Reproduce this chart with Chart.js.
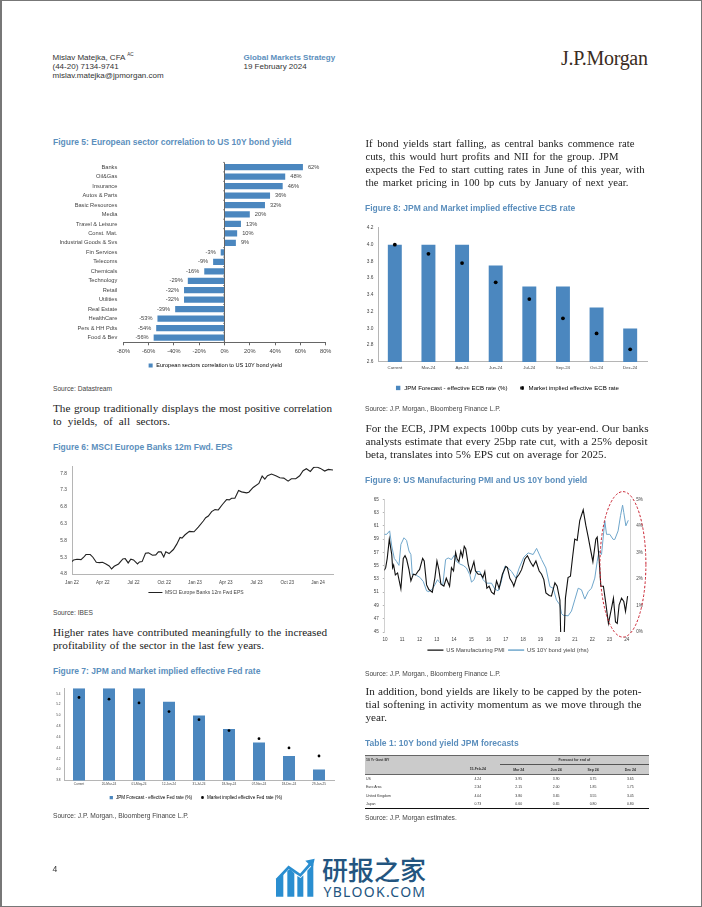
<!DOCTYPE html>
<html>
<head>
<meta charset="utf-8">
<script src="https://cdn.jsdelivr.net/npm/chart.js@4"></script>
<style>
html, body { margin: 0; padding: 0; background: #fff; }
#page { position: relative; width: 702px; height: 907px; overflow: hidden; font-family: "Liberation Sans", sans-serif; color: #333; }
#page > div, #page > canvas, #page > svg, #page > table { position: absolute; }
.frame { left: 0; top: 0; width: 699px; height: 905px; border: 1px solid #777; border-left-width: 2px; }
.hdr { font-size: 8px; line-height: 9.2px; white-space: nowrap; left: 52.5px; }
.hdr sup { font-size: 4.6px; line-height: 0; }
.strat { color: #5c8fbd; font-weight: bold; }
.title { font-size: 8.5px; font-weight: bold; line-height: 12px; color: #5c8fbd; white-space: nowrap; }
.src { font-size: 6.65px; line-height: 9px; white-space: nowrap; color: #444; }
.body { font-family: "Liberation Serif", serif; font-size: 11.2px; line-height: 13px; white-space: nowrap; color: #222; }
.body span { display: block; text-align: justify; text-align-last: justify; }
table { border-collapse: collapse; table-layout: fixed; font-size: 3.5px; color: #333; }
td { padding: 0; height: 8.4px; text-align: center; overflow: hidden; white-space: nowrap; }
td.name { text-align: left; padding-left: 1px; }
</style>
</head>
<body>
<div id="page">
  <div class="frame"></div>

  <div class="hdr" style="top:52.7px">Mislav Matejka, CFA <sup>AC</sup></div>
  <div class="hdr" style="top:62.1px">(44-20) 7134-9741</div>
  <div class="hdr" style="top:71.1px">mislav.matejka@jpmorgan.com</div>
  <div class="hdr strat" style="left:243.5px;top:53.1px">Global Markets Strategy</div>
  <div class="hdr" style="left:243.5px;top:62.1px">19 February 2024</div>
  <div style="left:561px;top:46px;font-family:'Liberation Serif',serif;font-size:20px;line-height:24px;color:#3b2c22;white-space:nowrap;letter-spacing:-.3px">J.P.Morgan</div>

  <div class="title" style="left:53px;top:136px">Figure 5: European sector correlation to US 10Y bond yield</div>
  <canvas id="chart5" width="310" height="227" style="left:60px;top:153px"></canvas>
  <div class="src" style="left:53px;top:383.8px">Source: Datastream</div>
  <div class="body" style="left:53px;top:401.5px"><span style="width:279px">The group traditionally displays the most positive correlation</span><span style="width:117px">to yields, of all sectors.</span></div>

  <div class="title" style="left:53px;top:440.7px">Figure 6: MSCI Europe Banks 12m Fwd. EPS</div>
  <canvas id="chart6" width="275" height="147" style="left:59px;top:460px"></canvas>
  <div class="src" style="left:53px;top:608.2px">Source: IBES</div>
  <div class="body" style="left:53px;top:625.5px"><span style="width:274px">Higher rates have contributed meaningfully to the increased</span><span style="width:211px">profitability of the sector in the last few years.</span></div>

  <div class="title" style="left:53px;top:665px">Figure 7: JPM and Market implied effective Fed rate</div>
  <canvas id="chart7" width="284" height="130" style="left:54px;top:682px"></canvas>
  <div class="src" style="left:53px;top:811.2px">Source: J.P. Morgan., Bloomberg Finance L.P.</div>

  <div class="body" style="left:365.5px;top:136.6px;line-height:13.3px;font-size:10.7px"><span style="width:269px">If bond yields start falling, as central banks commence rate</span><span style="width:253px">cuts, this would hurt profits and NII for the group. JPM</span><span style="width:279px">expects the Fed to start cutting rates in June of this year, with</span><span style="width:263px">the market pricing in 100 bp cuts by January of next year.</span></div>

  <div class="title" style="left:365px;top:202.3px">Figure 8: JPM and Market implied effective ECB rate</div>
  <canvas id="chart8" width="286" height="181" style="left:365px;top:222px"></canvas>
  <div class="src" style="left:365px;top:403.5px">Source: J.P. Morgan., Bloomberg Finance L.P.</div>
  <div class="body" style="left:365.5px;top:421.5px"><span style="width:283px">For the ECB, JPM expects 100bp cuts by year-end. Our banks</span><span style="width:282px">analysts estimate that every 25bp rate cut, with a 25% deposit</span><span style="width:241px">beta, translates into 5% EPS cut on average for 2025.</span></div>

  <div class="title" style="left:365px;top:474px">Figure 9: US Manufacturing PMI and US 10Y bond yield</div>
  <canvas id="chart9" width="306" height="180" style="left:355px;top:485px"></canvas>
  <div class="src" style="left:365px;top:668.5px">Source: J.P. Morgan., Bloomberg Finance L.P.</div>
  <div class="body" style="left:365.5px;top:684.5px"><span style="width:276px">In addition, bond yields are likely to be capped by the poten-</span><span style="width:276px">tial softening in activity momentum as we move through the</span><span style="width:21px">year.</span></div>

  <div class="title" style="left:365px;top:737.3px">Table 1: 10Y bond yield JPM forecasts</div>
  <table id="table1" style="left:365px;top:755px;width:284px"></table>
  <div class="src" style="left:365px;top:812.5px">Source: J.P. Morgan estimates.</div>

  <div style="left:52.5px;top:863px;font-size:8.6px;line-height:12px">4</div>

  <svg style="left:230px;top:840px" width="250" height="67" viewBox="0 0 750 201">
    <g fill="#2a8ed0">
      <polygon points="138,170 138,118 160,98 160,170"/>
      <polygon points="172,170 172,92 180,88 193,100 193,170"/>
      <polygon points="202,170 202,108 212,114 220,106 220,170"/>
      <polygon points="232,170 232,92 250,72 250,170"/>
      <polygon points="226,62 254,56 248,84"/>
    </g>
    <polyline points="140,120 176,82 211,106 241,72" fill="none" stroke="#2a8ed0" stroke-width="8"/>
  </svg>
  <div style="left:322px;top:853px;font-family:'Noto Sans CJK SC';font-weight:500;font-size:26px;line-height:32px;color:#23557f;white-space:nowrap">研报之家</div>
  <div style="left:323.5px;top:884px;font-family:'Noto Sans';font-size:14px;line-height:16px;color:#23557f;white-space:nowrap;letter-spacing:1.3px">YBLOOK.COM</div>
</div>

<script>
const sectors = ['Banks', 'Oil&Gas', 'Insurance', 'Autos & Parts', 'Basic Resources', 'Media', 'Travel & Leisure', 'Const. Mat.', 'Industrial Goods & Svs', 'Fin Services', 'Telecoms', 'Chemicals', 'Technology', 'Retail', 'Utilities', 'Real Estate', 'HealthCare', 'Pers & HH Pdts', 'Food & Bev'];
const correlation = [62, 48, 46, 36, 32, 20, 13, 10, 9, -3, -9, -16, -29, -32, -32, -39, -53, -54, -56];

const epsMonths = [0, 0.16, 0.49, 0.88, 1.14, 1.36, 1.78, 2.04, 2.37, 2.69, 2.98, 3.31, 3.63, 3.86, 4.12, 4.54, 4.96, 5.19, 5.48, 5.74, 6, 6.39, 6.58, 6.84, 7.17, 7.46, 7.85, 8.17, 8.43, 8.69, 8.95, 9.15, 9.47, 9.89, 10.22, 10.54, 10.73, 11.03, 11.45, 11.9, 12.32, 12.81, 13.04, 13.3, 13.62, 13.95, 14.27, 14.69, 15.08, 15.34, 15.57, 15.89, 16.25, 16.54, 17.03, 17.25, 17.67, 18.23, 18.55, 18.81, 19.07, 19.46, 19.88, 20.27, 20.66, 21.08, 21.4, 21.83, 22.21, 22.54, 22.86, 23.25, 23.58, 23.9, 24.23, 24.65, 25, 25.46];
const epsValues = [5.17, 5.22, 5.24, 5.23, 5.3, 5.38, 5.38, 5.3, 5.15, 5.14, 5.15, 5.1, 5.04, 4.95, 5.03, 5.1, 5.25, 5.26, 5.13, 5.24, 5.22, 5.1, 5.16, 5.17, 5.42, 5.43, 5.36, 5.37, 5.46, 5.46, 5.31, 5.46, 5.41, 5.53, 5.69, 5.89, 5.87, 5.97, 6.07, 6.06, 6.2, 6.38, 6.48, 6.53, 6.66, 6.72, 6.71, 6.88, 7.02, 7.01, 7.06, 7.06, 7.29, 7.25, 7.22, 7.24, 7.38, 7.5, 7.72, 7.63, 7.73, 7.78, 7.73, 7.67, 7.66, 7.57, 7.64, 7.64, 7.73, 7.88, 7.94, 7.86, 7.98, 7.99, 7.95, 7.87, 7.92, 7.9];
const epsTickMonths = [0, 3, 6, 9, 12, 15, 18, 21, 24];
const epsTickLabels = ['Jan 22', 'Apr 22', 'Jul 22', 'Oct 22', 'Jan 23', 'Apr 23', 'Jul 23', 'Oct 23', 'Jan 24'];
const epsYTicks = [4.8, 5.3, 5.8, 6.3, 6.8, 7.3, 7.8];

const fedDates = ['Current', '20-Mar-24', '01-May-24', '12-Jun-24', '31-Jul-24', '18-Sep-24', '07-Nov-24', '18-Dec-24', '29-Jan-25'];
const fedForecast = [5.5, 5.5, 5.5, 5.25, 5, 4.75, 4.5, 4.25, 4];
const fedImplied = [5.33, 5.3, 5.23, 5.07, 4.92, 4.72, 4.57, 4.4, 4.25];
const fedYTicks = [3.8, 4, 4.2, 4.4, 4.6, 4.8, 5, 5.2, 5.4];

const ecbDates = ['Current', 'Mar-24', 'Apr-24', 'Jun-24', 'Jul-24', 'Sep-24', 'Oct-24', 'Dec-24'];
const ecbForecast = [4, 4, 4, 3.75, 3.5, 3.5, 3.25, 3];
const ecbImplied = [4, 3.89, 3.78, 3.55, 3.35, 3.12, 2.94, 2.75];

const pmiYears = [9.96, 10.04, 10.13, 10.25, 10.39, 10.44, 10.5, 10.6, 10.73, 10.92, 11.06, 11.16, 11.25, 11.39, 11.5, 11.64, 11.77, 11.93, 12, 12.18, 12.27, 12.41, 12.54, 12.74, 12.89, 13.01, 13.12, 13.24, 13.41, 13.55, 13.74, 13.85, 13.97, 14.09, 14.18, 14.28, 14.39, 14.49, 14.59, 14.68, 14.82, 14.95, 15.15, 15.24, 15.4, 15.55, 15.67, 15.78, 15.9, 16.03, 16.17, 16.32, 16.46, 16.61, 16.8, 17, 17.09, 17.23, 17.39, 17.46, 17.62, 17.77, 17.91, 18.1, 18.25, 18.43, 18.58, 18.74, 18.93, 19.07, 19.2, 19.32, 19.51, 19.64, 19.84, 19.97, 20.13, 20.2, 20.36, 20.45, 20.6, 20.74, 20.86, 20.99, 21.13, 21.28, 21.48, 21.63, 21.77, 21.9, 22.04, 22.21, 22.29, 22.4, 22.5, 22.65, 22.79, 22.94, 23.12, 23.23, 23.35, 23.45, 23.56, 23.7, 23.83, 23.93, 24.05];
const pmiValues = [54.3, 54.7, 56.1, 59, 56.7, 54.7, 55.1, 53.6, 53.9, 51.5, 56.1, 56.5, 56, 54.4, 52.7, 53.7, 53.6, 54.2, 54.4, 56.1, 55.7, 52.1, 51.4, 51, 53.2, 55.7, 54.4, 52.2, 51.9, 53.1, 51.9, 54.7, 54.2, 57, 56, 55.6, 57.2, 56.3, 57.9, 57.5, 55.2, 53.9, 55.6, 54.2, 53.7, 53.7, 53.2, 54.1, 51.6, 51.9, 51, 50.7, 52.7, 51.6, 53.7, 54.9, 54.7, 53.1, 52.4, 51.9, 53.2, 53.7, 54.4, 56, 56.5, 55.5, 54.9, 55.7, 54.2, 53.7, 52.9, 50.9, 50.5, 50.4, 52.4, 51.9, 49.8, 42, 43, 50.1, 53.2, 53.4, 56.2, 59, 58.8, 61.8, 63.4, 61.1, 59.3, 57.5, 55.6, 59, 59.3, 56, 51.9, 51.9, 49.3, 46.3, 48.6, 50.1, 46.5, 46.3, 49.1, 50.1, 49.6, 48.1, 50.4];
const yieldYears = [9.96, 10.1, 10.27, 10.39, 10.54, 10.67, 10.81, 10.92, 11.1, 11.25, 11.39, 11.5, 11.58, 11.7, 11.83, 12.02, 12.22, 12.41, 12.54, 12.74, 12.89, 13.04, 13.2, 13.35, 13.51, 13.66, 13.85, 14.01, 14.14, 14.34, 14.53, 14.72, 14.91, 15.01, 15.16, 15.3, 15.49, 15.68, 15.88, 16.17, 16.36, 16.55, 16.71, 16.94, 17.14, 17.33, 17.58, 17.77, 18.04, 18.29, 18.58, 18.78, 19.07, 19.32, 19.55, 19.74, 19.93, 20.13, 20.22, 20.32, 20.61, 20.8, 20.99, 21.19, 21.38, 21.57, 21.77, 21.96, 22.15, 22.29, 22.4, 22.54, 22.73, 22.83, 23.02, 23.21, 23.31, 23.5, 23.64, 23.76, 23.83, 23.95, 24.09];
const yieldValues = [3.68, 3.68, 3.81, 3.24, 2.77, 2.66, 2.51, 3.3, 3.55, 3.45, 3.05, 2.92, 2.16, 2.18, 2.13, 2.06, 1.9, 1.55, 1.52, 1.62, 1.78, 1.97, 1.84, 1.78, 2.73, 2.79, 2.73, 2.89, 2.66, 2.56, 2.51, 2.41, 2.16, 1.88, 1.97, 2.28, 2.28, 1.97, 1.84, 1.84, 1.62, 1.55, 1.84, 2.47, 2.41, 2.28, 2.03, 2.41, 2.82, 2.98, 2.92, 3.15, 2.73, 2.41, 1.71, 1.65, 1.21, 1.02, 0.7, 0.63, 0.61, 0.79, 1.21, 1.65, 1.59, 1.24, 1.52, 1.65, 2.03, 2.66, 3.05, 2.92, 4.19, 3.68, 3.68, 3.49, 3.49, 3.81, 4.38, 4.78, 4.5, 4, 4.21];
const pmiXTicks = [10, 11, 12, 13, 14, 15, 16, 17, 18, 19, 20, 21, 22, 23, 24];
const highlightYears = [22.45, 25.11];
const highlightPmi = [44.23, 66.16];

const tableHead = ['15-Feb-24', 'Mar 24', 'Jun 24', 'Sep 24', 'Dec 24'];
const tableCountries = ['US', 'Euro Area', 'United Kingdom', 'Japan'];
const tableYields = [
    ['4.24', '3.95', '3.90', '3.75', '3.65'],
    ['2.34', '2.15', '2.00', '1.85', '1.75'],
    ['4.04', '3.80', '3.65', '3.55', '3.45'],
    ['0.73', '0.60', '0.65', '0.80', '0.80'],
];

const BLUE = '#4b87bf';
const LIGHT_BLUE = '#6fa6cb';
const SANS = '"Liberation Sans", sans-serif';
const AXIS = '#b5b5b5';
const TEXT = '#444';

Chart.defaults.animation = false;
Chart.defaults.responsive = false;
Chart.defaults.font.family = SANS;
Chart.defaults.color = TEXT;

function xy(xs, ys) {
    return xs.map((x, i) => ({ x: x, y: ys[i] }));
}

function legend_opts(size, padding, box) {
    return {
        position: 'bottom',
        labels: {
            font: { size: size },
            color: TEXT,
            padding: padding,
            boxWidth: box,
            boxHeight: 0,
        },
    };
}

function marker_legend(size, padding) {
    const l = legend_opts(size, padding, size);
    l.labels.usePointStyle = true;
    l.labels.boxHeight = size * 0.72;
    l.labels.generateLabels = chart => chart.data.datasets.map((d, i) => ({
        text: d.label,
        fillStyle: d.backgroundColor,
        strokeStyle: d.backgroundColor,
        lineWidth: 0,
        pointStyle: 'rect',
        datasetIndex: i,
    }));
    return l;
}

// small black dot for the legends of figures 7 and 8
function dot_image(size) {
    const c = document.createElement('canvas');
    c.width = c.height = size;
    const ctx = c.getContext('2d');
    ctx.fillStyle = '#000';
    ctx.beginPath();
    ctx.arc(size / 2, size / 2, size / 2 - 0.1, 0, Math.PI * 2);
    ctx.fill();
    return c;
}

function rate_legend(size, padding, dot) {
    const l = marker_legend(size, padding);
    const image = dot_image(dot);
    l.labels.generateLabels = chart => [1, 0].map(i => {
        const d = chart.data.datasets[i];
        return {
            text: d.label,
            fillStyle: d.backgroundColor,
            strokeStyle: d.backgroundColor,
            lineWidth: 0,
            pointStyle: d.type === 'line' ? image : 'rect',
            datasetIndex: i,
        };
    });
    return l;
}

// bar value labels and the small ticks on the zero line of figure 5
const barLabels = {
    id: 'barLabels',
    afterLayout(chart) {
        // padding on the right pulls the legend off centre, put it back
        chart.legend.left += 22;
        chart.legend.right += 22;
    },
    afterDatasetsDraw(chart) {
        const ctx = chart.ctx;
        const zero = chart.scales.x.getPixelForValue(0);
        const y = chart.scales.y;
        ctx.save();
        ctx.strokeStyle = '#666';
        ctx.lineWidth = 0.7;
        for (let i = 0; i <= sectors.length; i++) {
            const p = y.getPixelForValue(i - 0.5);
            ctx.beginPath();
            ctx.moveTo(zero - 1.5, p);
            ctx.lineTo(zero, p);
            ctx.stroke();
        }
        ctx.font = '5.7px ' + SANS;
        ctx.fillStyle = TEXT;
        ctx.textBaseline = 'middle';
        chart.getDatasetMeta(0).data.forEach((bar, i) => {
            const v = correlation[i];
            ctx.textAlign = v < 0 ? 'right' : 'left';
            ctx.fillText(v + '%', bar.x + (v < 0 ? -5 : 5), bar.y);
        });
        ctx.restore();
    },
};

// dashed circle round the last two years of figure 9
const highlight = {
    id: 'highlight',
    afterDraw(chart) {
        const x = chart.scales.x, y = chart.scales.y;
        const x0 = x.getPixelForValue(highlightYears[0]), x1 = x.getPixelForValue(highlightYears[1]);
        const y0 = y.getPixelForValue(highlightPmi[0]), y1 = y.getPixelForValue(highlightPmi[1]);
        const ctx = chart.ctx;
        ctx.save();
        ctx.strokeStyle = '#c8202f';
        ctx.lineWidth = 1;
        ctx.setLineDash([2.5, 1.8]);
        ctx.beginPath();
        ctx.ellipse((x0 + x1) / 2, (y0 + y1) / 2, Math.abs(x1 - x0) / 2, Math.abs(y1 - y0) / 2, 0, 0, Math.PI * 2);
        ctx.stroke();
        ctx.restore();
    },
};

const chart5 = new Chart(document.getElementById('chart5'), {
    type: 'bar',
    data: {
        labels: sectors,
        datasets: [{
            label: 'European sectors correlation to US 10Y bond yield',
            data: correlation,
            backgroundColor: BLUE,
            barPercentage: 0.66,
            categoryPercentage: 1,
        }],
    },
    plugins: [barLabels],
    options: {
        indexAxis: 'y',
        layout: { padding: { right: 44.3, bottom: 1.7 } },
        plugins: { legend: marker_legend(5.6, 4.4), tooltip: { enabled: false } },
        scales: {
            x: {
                min: -80,
                max: 80,
                ticks: { stepSize: 20, font: { size: 5.7 }, callback: v => v + '%', padding: 3, maxRotation: 0 },
                grid: { color: c => c.tick.value === 0 ? '#666' : 'transparent', tickColor: '#666', tickLength: 3, z: 1 },
                border: { color: '#666', z: 1 },
                afterFit: s => { s.height = 16; },
            },
            y: {
                ticks: { font: { size: 5.7 }, padding: 6, autoSkip: false },
                grid: { display: false, drawTicks: false },
                border: { display: false },
                afterFit: s => { s.width = 63.3; },
            },
        },
    },
});

const chart6 = new Chart(document.getElementById('chart6'), {
    type: 'line',
    data: {
        datasets: [{
            label: 'MSCI Europe Banks 12m Fwd EPS',
            data: xy(epsMonths, epsValues),
            borderColor: '#222',
            backgroundColor: '#222',
            borderWidth: 1.1,
            pointRadius: 0,
            tension: 0,
        }],
    },
    options: {
        layout: { padding: { top: 6.7, right: 1, bottom: 2 } },
        plugins: { legend: legend_opts(5, 3, 14), tooltip: { enabled: false } },
        scales: {
            x: {
                type: 'linear',
                min: 0,
                max: 25.46,
                afterBuildTicks: s => { s.ticks = epsTickMonths.map(v => ({ value: v })); },
                ticks: { font: { size: 4.6 }, padding: 3.7, maxRotation: 0, autoSkip: false, callback: v => epsTickLabels[epsTickMonths.indexOf(v)] },
                grid: { display: false, tickLength: 2 },
                border: { color: AXIS },
                afterFit: s => { s.height = 13; },
            },
            y: {
                min: 4.8,
                max: 8,
                afterBuildTicks: s => { s.ticks = epsYTicks.map(v => ({ value: v })); },
                ticks: { font: { size: 4.8 }, padding: 3, callback: v => v.toFixed(1) },
                grid: { display: false, tickLength: 2, tickColor: AXIS, drawTicks: true },
                border: { color: AXIS },
                afterFit: s => { s.width = 13; },
            },
        },
    },
});

function rate_chart(id, dates, forecast, implied, fc_label, mk_label, opt) {
    return new Chart(document.getElementById(id), {
        data: {
            labels: dates,
            datasets: [
                {
                    type: 'line',
                    label: mk_label,
                    data: implied,
                    showLine: false,
                    backgroundColor: '#000',
                    borderColor: '#000',
                    pointRadius: opt.dot,
                    pointBorderWidth: 0,
                    order: 0,
                },
                {
                    type: 'bar',
                    label: fc_label,
                    data: forecast,
                    backgroundColor: BLUE,
                    barPercentage: opt.bar,
                    categoryPercentage: 1,
                    order: 1,
                },
            ],
        },
        options: {
            layout: { padding: opt.padding },
            plugins: { legend: opt.legend, tooltip: { enabled: false } },
            scales: {
                x: {
                    ticks: { font: { size: opt.xFont }, padding: opt.xPad, maxRotation: 0, autoSkip: false },
                    grid: { display: false, tickLength: 1.5 },
                    border: { color: AXIS },
                    afterFit: s => { s.height = opt.xHeight; },
                },
                y: opt.y,
            },
        },
    });
}

const chart7 = rate_chart('chart7', fedDates, fedForecast, fedImplied, 'JPM Forecast - effective Fed rate (%)', 'Market implied effective Fed rate (%)', {
    dot: 1.4,
    bar: 0.4,
    xFont: 3.1,
    xPad: 0,
    xHeight: 7,
    padding: { top: 6.3, right: 1, bottom: 2 },
    legend: rate_legend(4.6, 8, 3),
    y: {
        min: 3.8,
        max: 5.5,
        afterBuildTicks: s => { s.ticks = fedYTicks.map(v => ({ value: v })); },
        ticks: { font: { size: 3.1 }, padding: 2, callback: v => v.toFixed(1) },
        grid: { display: false, tickLength: 1.5 },
        border: { color: AXIS },
        afterFit: s => { s.width = 10; },
    },
});

const chart8 = rate_chart('chart8', ecbDates, ecbForecast, ecbImplied, 'JPM Forecast - effective ECB rate (%)', 'Market implied effective ECB rate', {
    dot: 1.9,
    bar: 0.415,
    xFont: 4.4,
    xPad: 2,
    xHeight: 11,
    padding: { top: 5.7, right: 2, bottom: 2 },
    legend: rate_legend(6.1, 12, 4),
    y: {
        min: 2.6,
        max: 4.2,
        ticks: { font: { size: 4.8 }, stepSize: 0.2, padding: 3, callback: v => v.toFixed(1) },
        grid: { display: false, tickLength: 1.5 },
        border: { color: AXIS },
        afterFit: s => { s.width = 13; },
    },
});

const chart9 = new Chart(document.getElementById('chart9'), {
    type: 'line',
    data: {
        datasets: [
            {
                label: 'US Manufacturing PMI',
                data: xy(pmiYears, pmiValues),
                borderColor: '#111',
                backgroundColor: '#111',
                borderWidth: 1.1,
                pointRadius: 0,
                tension: 0,
                yAxisID: 'y',
            },
            {
                label: 'US 10Y bond yield (rhs)',
                data: xy(yieldYears, yieldValues),
                borderColor: LIGHT_BLUE,
                backgroundColor: LIGHT_BLUE,
                borderWidth: 1,
                pointRadius: 0,
                tension: 0,
                yAxisID: 'y2',
            },
        ],
    },
    plugins: [highlight],
    options: {
        layout: { padding: { top: 14.3, bottom: 2 } },
        plugins: { legend: legend_opts(5.8, 3.5, 16), tooltip: { enabled: false } },
        scales: {
            x: {
                type: 'linear',
                min: 9.96,
                max: 24.23,
                afterBuildTicks: s => { s.ticks = pmiXTicks.map(v => ({ value: v })); },
                ticks: { font: { size: 4.6 }, padding: 3.5, maxRotation: 0, autoSkip: false, callback: v => String(v) },
                grid: { display: false, tickLength: 1 },
                border: { display: false },
                afterFit: s => { s.height = 11.7; },
            },
            y: {
                position: 'left',
                min: 45,
                max: 65,
                ticks: { font: { size: 4.6 }, stepSize: 2, padding: 4 },
                grid: { color: c => c.tick.value === 50 ? '#c4c4c4' : 'transparent', tickColor: AXIS, tickLength: 1.5 },
                border: { color: '#d0d0d0' },
                afterFit: s => { s.width = 29.3; },
            },
            y2: {
                position: 'right',
                min: 0,
                max: 5,
                ticks: { font: { size: 4.6 }, stepSize: 1, padding: 4, callback: v => v + '%' },
                grid: { display: false, tickColor: AXIS, tickLength: 1.5 },
                border: { color: '#d0d0d0' },
                afterFit: s => { s.width = 30.3; },
            },
        },
    },
});

// table 1
const widths = [91, 43.7, 38, 36.9, 37, 37.4];
let html = '<colgroup>' + widths.map(w => `<col style="width:${w}px">`).join('') + '</colgroup>';
html += '<tr style="background:#cbcbcb"><td class="name" style="font-weight:bold;border-top:1.5px solid #666">10 Yr Govt BY</td><td style="border-top:1.5px solid #666"></td>'
    + '<td colspan="4" style="font-weight:bold;border-top:1.5px solid #666;border-bottom:1px solid #555">Forecast for end of</td></tr>';
html += '<tr style="background:#cbcbcb"><td style="border-bottom:1px solid #666"></td>'
    + tableHead.map(h => `<td style="font-weight:bold;border-bottom:1px solid #666">${h}</td>`).join('') + '</tr>';
tableCountries.forEach((c, i) => {
    const last = i === tableCountries.length - 1 ? ' style="border-bottom:1px solid #111"' : '';
    html += `<tr><td class="name"${last}>${c}</td>` + tableYields[i].map(v => `<td${last}>${v}</td>`).join('') + '</tr>';
});
document.getElementById('table1').innerHTML = html;
</script>
</body>
</html>
